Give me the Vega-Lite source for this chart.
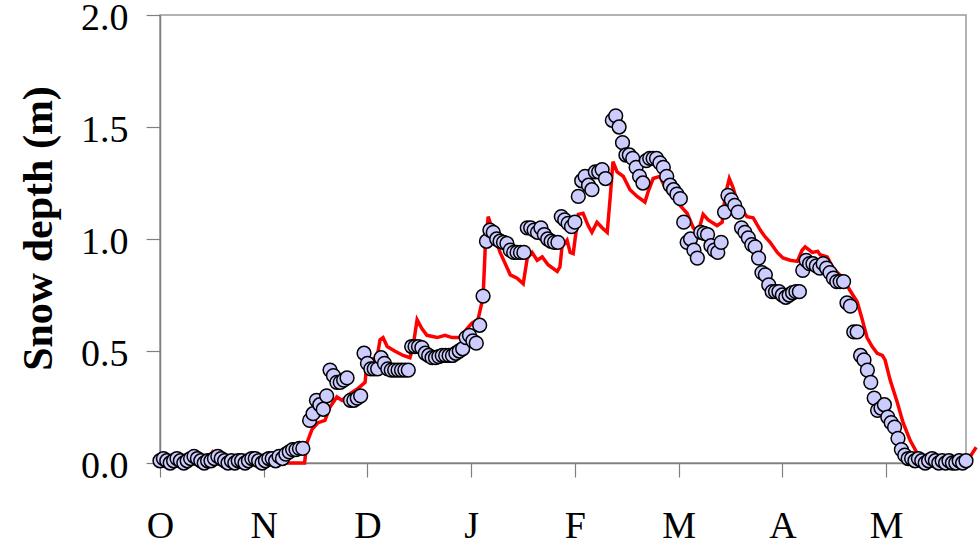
{
  "$schema": "https://vega.github.io/schema/vega-lite/v6.json",
  "width": 806,
  "height": 448,
  "autosize": {"type": "none"},
  "padding": {"left": 160, "top": 15, "right": 14, "bottom": 92},
  "background": "white",
  "config": {
    "view": {"stroke": "#999999", "strokeWidth": 1.5},
    "axis": {"grid": false, "domainColor": "#808080", "tickColor": "#808080", "domainWidth": 1.5, "tickWidth": 1.2, "labelFont": "Liberation Serif", "labelColor": "black", "titleFont": "Liberation Serif", "titleColor": "black"}
  },
  "datasets": {
    "model": [
      {"day": 0, "depth": 0}, {"day": 13, "depth": 0}, {"day": 14.5, "depth": 0.03}, {"day": 15.5, "depth": 0.05}, {"day": 16.5, "depth": 0.03}, {"day": 18, "depth": 0},
      {"day": 42.5, "depth": 0}, {"day": 43.2, "depth": 0.09}, {"day": 44.7, "depth": 0.15}, {"day": 46.5, "depth": 0.18}, {"day": 48.5, "depth": 0.19},
      {"day": 50, "depth": 0.25}, {"day": 52, "depth": 0.295}, {"day": 53.5, "depth": 0.28}, {"day": 55.9, "depth": 0.31}, {"day": 58, "depth": 0.33},
      {"day": 60.3, "depth": 0.36}, {"day": 60.9, "depth": 0.46}, {"day": 63.8, "depth": 0.47}, {"day": 64.7, "depth": 0.55}, {"day": 65.6, "depth": 0.56},
      {"day": 66.8, "depth": 0.52}, {"day": 69, "depth": 0.5}, {"day": 71.5, "depth": 0.48}, {"day": 73.5, "depth": 0.47}, {"day": 74.4, "depth": 0.52},
      {"day": 75.6, "depth": 0.64}, {"day": 77, "depth": 0.6}, {"day": 78.5, "depth": 0.57}, {"day": 81.5, "depth": 0.56}, {"day": 83.8, "depth": 0.57},
      {"day": 85.9, "depth": 0.56}, {"day": 88.2, "depth": 0.56}, {"day": 90.3, "depth": 0.6}, {"day": 91.8, "depth": 0.625}, {"day": 93.5, "depth": 0.64},
      {"day": 95, "depth": 0.74}, {"day": 95.6, "depth": 0.95}, {"day": 96.5, "depth": 1.1}, {"day": 98, "depth": 1.03}, {"day": 100, "depth": 0.94},
      {"day": 101.5, "depth": 0.89}, {"day": 103, "depth": 0.84}, {"day": 105, "depth": 0.825}, {"day": 106.8, "depth": 0.8}, {"day": 108, "depth": 0.915},
      {"day": 109.4, "depth": 0.94}, {"day": 110.9, "depth": 0.905}, {"day": 112.4, "depth": 0.92}, {"day": 114.1, "depth": 0.885}, {"day": 116.8, "depth": 0.855},
      {"day": 117.6, "depth": 0.875}, {"day": 118.2, "depth": 0.965}, {"day": 119.7, "depth": 0.995}, {"day": 120.6, "depth": 0.94}, {"day": 121.5, "depth": 0.935},
      {"day": 123, "depth": 1.11}, {"day": 124.4, "depth": 1.115}, {"day": 125.9, "depth": 1.06}, {"day": 127, "depth": 1.03}, {"day": 128.5, "depth": 1.075},
      {"day": 130, "depth": 1.05}, {"day": 131.5, "depth": 1.03}, {"day": 132.4, "depth": 1.19}, {"day": 133.2, "depth": 1.345}, {"day": 134.4, "depth": 1.3},
      {"day": 136.2, "depth": 1.28}, {"day": 138.2, "depth": 1.22}, {"day": 140.3, "depth": 1.19}, {"day": 142.6, "depth": 1.165}, {"day": 143.5, "depth": 1.21},
      {"day": 145, "depth": 1.27}, {"day": 147, "depth": 1.28}, {"day": 148.5, "depth": 1.23}, {"day": 150.9, "depth": 1.19}, {"day": 152.9, "depth": 1.15},
      {"day": 155, "depth": 1.115}, {"day": 156.8, "depth": 1.05}, {"day": 157.4, "depth": 1.04}, {"day": 158.8, "depth": 1.06}, {"day": 159.7, "depth": 1.11},
      {"day": 161.2, "depth": 1.085}, {"day": 163.8, "depth": 1.06}, {"day": 165.3, "depth": 1.075}, {"day": 166.2, "depth": 1.195}, {"day": 167.4, "depth": 1.27},
      {"day": 168.5, "depth": 1.23}, {"day": 170, "depth": 1.15}, {"day": 172.6, "depth": 1.1}, {"day": 174.4, "depth": 1.095}, {"day": 176.5, "depth": 1.04},
      {"day": 177.9, "depth": 1.01}, {"day": 179.4, "depth": 0.985}, {"day": 181.5, "depth": 0.94}, {"day": 183.2, "depth": 0.915}, {"day": 185.3, "depth": 0.905},
      {"day": 187.4, "depth": 0.9}, {"day": 188.8, "depth": 0.95}, {"day": 189.7, "depth": 0.965}, {"day": 191.8, "depth": 0.94}, {"day": 193.4, "depth": 0.945},
      {"day": 194.1, "depth": 0.93}, {"day": 196.2, "depth": 0.92}, {"day": 197.9, "depth": 0.87}, {"day": 200.9, "depth": 0.825}, {"day": 202.9, "depth": 0.77},
      {"day": 205, "depth": 0.72}, {"day": 206.5, "depth": 0.64}, {"day": 207.9, "depth": 0.56}, {"day": 209.4, "depth": 0.52}, {"day": 210.9, "depth": 0.49},
      {"day": 212.4, "depth": 0.48}, {"day": 213.2, "depth": 0.46}, {"day": 214.7, "depth": 0.37}, {"day": 216.8, "depth": 0.27}, {"day": 218.5, "depth": 0.18},
      {"day": 220.6, "depth": 0.1}, {"day": 222.6, "depth": 0.045}, {"day": 223.5, "depth": 0.005}, {"day": 237, "depth": 0}, {"day": 240, "depth": 0.07}
    ],
    "obs": [
      {"day": 0, "depth": 0.01}, {"day": 1, "depth": 0.02}, {"day": 2, "depth": 0.01}, {"day": 3, "depth": 0.0}, {"day": 4, "depth": 0.01},
      {"day": 5, "depth": 0.02}, {"day": 6, "depth": 0.01}, {"day": 7, "depth": 0.0}, {"day": 8, "depth": 0.01}, {"day": 9, "depth": 0.02},
      {"day": 10, "depth": 0.03}, {"day": 11, "depth": 0.02}, {"day": 12, "depth": 0.01}, {"day": 13, "depth": 0.0}, {"day": 14, "depth": 0.01},
      {"day": 15, "depth": 0.01}, {"day": 16, "depth": 0.02}, {"day": 17, "depth": 0.03}, {"day": 18, "depth": 0.02}, {"day": 19, "depth": 0.01},
      {"day": 20, "depth": 0.0}, {"day": 21, "depth": 0.01}, {"day": 22, "depth": 0.0}, {"day": 23, "depth": 0.01}, {"day": 24, "depth": 0.01},
      {"day": 25, "depth": 0.0}, {"day": 26, "depth": 0.01}, {"day": 27, "depth": 0.02}, {"day": 28, "depth": 0.02}, {"day": 29, "depth": 0.01},
      {"day": 30, "depth": 0.0}, {"day": 31, "depth": 0.01}, {"day": 32, "depth": 0.02}, {"day": 33, "depth": 0.02}, {"day": 34, "depth": 0.01},
      {"day": 35, "depth": 0.03}, {"day": 36, "depth": 0.02}, {"day": 37, "depth": 0.04}, {"day": 38, "depth": 0.05}, {"day": 39, "depth": 0.06},
      {"day": 40, "depth": 0.06}, {"day": 41, "depth": 0.065}, {"day": 42, "depth": 0.065},
      {"day": 44, "depth": 0.19}, {"day": 45, "depth": 0.22}, {"day": 46, "depth": 0.28}, {"day": 47, "depth": 0.26}, {"day": 48, "depth": 0.24},
      {"day": 49, "depth": 0.3}, {"day": 50, "depth": 0.415}, {"day": 51, "depth": 0.39}, {"day": 52, "depth": 0.36}, {"day": 53, "depth": 0.36},
      {"day": 54, "depth": 0.37}, {"day": 55, "depth": 0.38}, {"day": 56, "depth": 0.28}, {"day": 57, "depth": 0.28}, {"day": 58, "depth": 0.29},
      {"day": 59, "depth": 0.3}, {"day": 60, "depth": 0.49}, {"day": 61, "depth": 0.445}, {"day": 62, "depth": 0.42}, {"day": 63, "depth": 0.42},
      {"day": 64, "depth": 0.42}, {"day": 65, "depth": 0.47}, {"day": 66, "depth": 0.445}, {"day": 67, "depth": 0.42}, {"day": 68, "depth": 0.415},
      {"day": 69, "depth": 0.415}, {"day": 70, "depth": 0.415}, {"day": 71, "depth": 0.415}, {"day": 72, "depth": 0.415}, {"day": 73, "depth": 0.415},
      {"day": 74, "depth": 0.52}, {"day": 75, "depth": 0.52}, {"day": 76, "depth": 0.52}, {"day": 77, "depth": 0.515}, {"day": 78, "depth": 0.49},
      {"day": 79, "depth": 0.48}, {"day": 80, "depth": 0.47}, {"day": 81, "depth": 0.47}, {"day": 82, "depth": 0.475}, {"day": 83, "depth": 0.48},
      {"day": 84, "depth": 0.48}, {"day": 85, "depth": 0.48}, {"day": 86, "depth": 0.48}, {"day": 87, "depth": 0.49}, {"day": 88, "depth": 0.5},
      {"day": 89, "depth": 0.51}, {"day": 90, "depth": 0.56}, {"day": 91, "depth": 0.57}, {"day": 92, "depth": 0.545}, {"day": 93, "depth": 0.535},
      {"day": 94, "depth": 0.615}, {"day": 95, "depth": 0.745}, {"day": 96, "depth": 0.99}, {"day": 97, "depth": 1.04}, {"day": 98, "depth": 1.03},
      {"day": 99, "depth": 1.0}, {"day": 100, "depth": 0.99}, {"day": 101, "depth": 0.985}, {"day": 102, "depth": 0.98}, {"day": 103, "depth": 0.95},
      {"day": 104, "depth": 0.94}, {"day": 105, "depth": 0.94}, {"day": 106, "depth": 0.94}, {"day": 107, "depth": 0.94}, {"day": 108, "depth": 1.05},
      {"day": 109, "depth": 1.05}, {"day": 110, "depth": 1.04}, {"day": 111, "depth": 1.03}, {"day": 112, "depth": 1.05}, {"day": 113, "depth": 1.02},
      {"day": 114, "depth": 1.0}, {"day": 115, "depth": 0.99}, {"day": 116, "depth": 0.985}, {"day": 117, "depth": 0.985}, {"day": 118, "depth": 1.1},
      {"day": 119, "depth": 1.085}, {"day": 120, "depth": 1.07}, {"day": 121, "depth": 1.055}, {"day": 122, "depth": 1.075}, {"day": 123, "depth": 1.19},
      {"day": 124, "depth": 1.26}, {"day": 125, "depth": 1.28}, {"day": 126, "depth": 1.24}, {"day": 127, "depth": 1.22}, {"day": 128, "depth": 1.3},
      {"day": 129, "depth": 1.3}, {"day": 130, "depth": 1.31}, {"day": 131, "depth": 1.27},
      {"day": 133, "depth": 1.53}, {"day": 134, "depth": 1.55}, {"day": 135, "depth": 1.5}, {"day": 136, "depth": 1.43}, {"day": 137, "depth": 1.375},
      {"day": 138, "depth": 1.375}, {"day": 139, "depth": 1.36}, {"day": 140, "depth": 1.32}, {"day": 141, "depth": 1.28}, {"day": 142, "depth": 1.25},
      {"day": 143, "depth": 1.35}, {"day": 144, "depth": 1.36}, {"day": 145, "depth": 1.36}, {"day": 146, "depth": 1.36}, {"day": 147, "depth": 1.34},
      {"day": 148, "depth": 1.32}, {"day": 149, "depth": 1.28}, {"day": 150, "depth": 1.24}, {"day": 151, "depth": 1.22}, {"day": 152, "depth": 1.2},
      {"day": 153, "depth": 1.18}, {"day": 154, "depth": 1.075}, {"day": 155, "depth": 0.985}, {"day": 156, "depth": 1.0}, {"day": 157, "depth": 0.95},
      {"day": 158, "depth": 0.915}, {"day": 159, "depth": 1.03}, {"day": 160, "depth": 1.025}, {"day": 161, "depth": 1.02}, {"day": 162, "depth": 0.97},
      {"day": 163, "depth": 0.95}, {"day": 164, "depth": 0.94}, {"day": 165, "depth": 0.985}, {"day": 166, "depth": 1.12}, {"day": 167, "depth": 1.195},
      {"day": 168, "depth": 1.175}, {"day": 169, "depth": 1.15}, {"day": 170, "depth": 1.12}, {"day": 171, "depth": 1.05}, {"day": 172, "depth": 1.03},
      {"day": 173, "depth": 1.005}, {"day": 174, "depth": 0.975}, {"day": 175, "depth": 0.965}, {"day": 176, "depth": 0.915}, {"day": 177, "depth": 0.85},
      {"day": 178, "depth": 0.84}, {"day": 179, "depth": 0.795}, {"day": 180, "depth": 0.765}, {"day": 181, "depth": 0.765}, {"day": 182, "depth": 0.765},
      {"day": 183, "depth": 0.75}, {"day": 184, "depth": 0.74}, {"day": 185, "depth": 0.75}, {"day": 186, "depth": 0.76}, {"day": 187, "depth": 0.765},
      {"day": 188, "depth": 0.765}, {"day": 189, "depth": 0.86}, {"day": 190, "depth": 0.905}, {"day": 191, "depth": 0.89}, {"day": 192, "depth": 0.89},
      {"day": 193, "depth": 0.88}, {"day": 194, "depth": 0.87}, {"day": 195, "depth": 0.89}, {"day": 196, "depth": 0.87}, {"day": 197, "depth": 0.85},
      {"day": 198, "depth": 0.825}, {"day": 199, "depth": 0.81}, {"day": 200, "depth": 0.81}, {"day": 201, "depth": 0.81}, {"day": 202, "depth": 0.715},
      {"day": 203, "depth": 0.7}, {"day": 204, "depth": 0.585}, {"day": 205, "depth": 0.585}, {"day": 206, "depth": 0.48}, {"day": 207, "depth": 0.46},
      {"day": 208, "depth": 0.415}, {"day": 209, "depth": 0.36}, {"day": 210, "depth": 0.29}, {"day": 211, "depth": 0.235}, {"day": 212, "depth": 0.245},
      {"day": 213, "depth": 0.26}, {"day": 214, "depth": 0.205}, {"day": 215, "depth": 0.18}, {"day": 216, "depth": 0.16}, {"day": 217, "depth": 0.11},
      {"day": 218, "depth": 0.06}, {"day": 219, "depth": 0.035}, {"day": 220, "depth": 0.02}, {"day": 221, "depth": 0.02}, {"day": 222, "depth": 0.01},
      {"day": 223, "depth": 0.02}, {"day": 224, "depth": 0.01}, {"day": 225, "depth": 0.0}, {"day": 226, "depth": 0.01}, {"day": 227, "depth": 0.02},
      {"day": 228, "depth": 0.01}, {"day": 229, "depth": 0.0}, {"day": 230, "depth": 0.01}, {"day": 231, "depth": 0.0}, {"day": 232, "depth": 0.01},
      {"day": 233, "depth": 0.0}, {"day": 234, "depth": 0.0}, {"day": 235, "depth": 0.01}, {"day": 236, "depth": 0.0}, {"day": 237, "depth": 0.01}
    ]
  },
  "encoding": {
    "x": {
      "field": "day", "type": "quantitative",
      "scale": {"domain": [0, 237], "nice": false, "zero": false},
      "axis": {
        "title": null,
        "values": [0, 30.5, 61, 91.5, 122, 152.5, 183, 213.5],
        "labelExpr": "['O','N','D','J','F','M','A','M'][round(datum.value/30.5)]",
        "tickSize": 14, "labelFontSize": 38, "labelPadding": 30, "labelFlush": false
      }
    },
    "y": {
      "field": "depth", "type": "quantitative",
      "scale": {"domain": [0, 2], "nice": false},
      "axis": {
        "title": "Snow depth (m)",
        "values": [0, 0.5, 1, 1.5, 2],
        "format": ".1f",
        "tickSize": 14, "labelFontSize": 38, "labelPadding": 18, "labelOffset": 3,
        "titleFontSize": 42, "titleFontWeight": "bold", "titlePadding": 20, "titleY": 213
      }
    }
  },
  "layer": [
    {
      "data": {"name": "model"},
      "mark": {"type": "line", "color": "#ff0000", "strokeWidth": 3.5, "clip": false}
    },
    {
      "data": {"name": "obs"},
      "mark": {"type": "point", "shape": "circle", "filled": true, "fill": "#ccccff", "stroke": "black", "strokeWidth": 1.5, "size": 190, "opacity": 1}
    }
  ]
}
